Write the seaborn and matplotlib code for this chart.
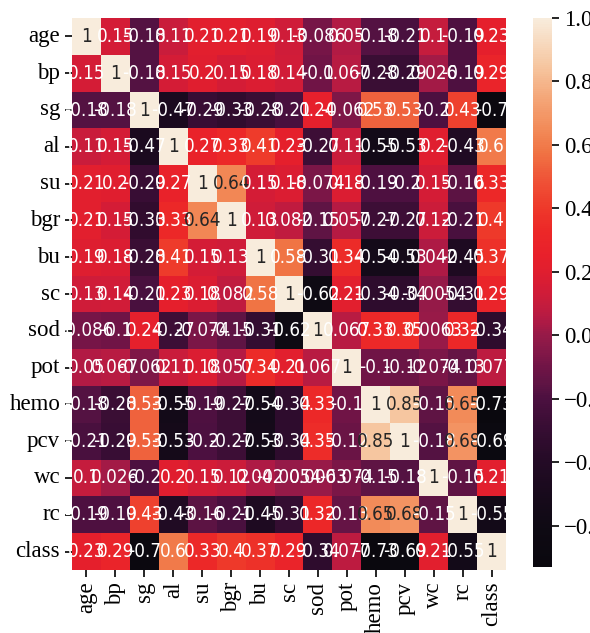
import numpy as np
import pandas as pd
import matplotlib
matplotlib.use("Agg")
import matplotlib.pyplot as plt
import seaborn as sns
from matplotlib import font_manager
from matplotlib.colors import LinearSegmentedColormap

labels = ["age", "bp", "sg", "al", "su", "bgr", "bu", "sc", "sod", "pot",
          "hemo", "pcv", "wc", "rc", "class"]

r_age   = [1, 0.15, -0.18, 0.11, 0.21, 0.21, 0.19, 0.13, -0.086, 0.05, -0.18, -0.21, 0.1, -0.19, 0.23]
r_bp    = [0.15, 1, -0.18, 0.15, 0.2, 0.15, 0.18, 0.14, -0.1, 0.067, -0.28, -0.29, 0.026, -0.19, 0.29]
r_sg    = [-0.18, -0.18, 1, -0.47, -0.29, -0.33, -0.28, -0.21, 0.24, -0.062, 0.53, 0.53, -0.2, 0.43, -0.7]
r_al    = [0.11, 0.15, -0.47, 1, 0.27, 0.33, 0.41, 0.23, -0.27, 0.11, -0.55, -0.53, 0.2, -0.43, 0.6]
r_su    = [0.21, 0.2, -0.29, 0.27, 1, 0.64, 0.15, 0.18, -0.074, 0.18, -0.19, -0.2, 0.15, -0.16, 0.33]
r_bgr   = [0.21, 0.15, -0.33, 0.33, 0.64, 1, 0.13, 0.082, -0.15, 0.057, -0.27, -0.27, 0.12, -0.21, 0.4]
r_bu    = [0.19, 0.18, -0.28, 0.41, 0.15, 0.13, 1, 0.58, -0.31, 0.34, -0.54, -0.53, 0.042, -0.45, 0.37]
r_sc    = [0.13, 0.14, -0.21, 0.23, 0.18, 0.082, 0.58, 1, -0.62, 0.21, -0.34, -0.34, -0.0054, -0.31, 0.29]
r_sod   = [-0.086, -0.1, 0.24, -0.27, -0.074, -0.15, -0.31, -0.62, 1, 0.067, 0.33, 0.35, 0.0063, 0.32, -0.34]
r_pot   = [0.05, 0.067, -0.062, 0.11, 0.18, 0.057, 0.34, 0.21, 0.067, 1, -0.1, -0.12, -0.074, -0.13, 0.077]
r_hemo  = [-0.18, -0.28, 0.53, -0.55, -0.19, -0.27, -0.54, -0.34, 0.33, -0.1, 1, 0.85, -0.15, 0.65, -0.73]
r_pcv   = [-0.21, -0.29, 0.53, -0.53, -0.2, -0.27, -0.53, -0.34, 0.35, -0.12, 0.85, 1, -0.18, 0.68, -0.69]
r_wc    = [0.1, 0.026, -0.2, 0.2, 0.15, 0.12, 0.042, -0.0054, 0.0063, -0.074, -0.15, -0.18, 1, -0.15, 0.21]
r_rc    = [-0.19, -0.19, 0.43, -0.43, -0.16, -0.21, -0.45, -0.31, 0.32, -0.13, 0.65, 0.68, -0.15, 1, -0.55]
r_class = [0.23, 0.29, -0.7, 0.6, 0.33, 0.4, 0.37, 0.29, -0.34, 0.077, -0.73, -0.69, 0.21, -0.55, 1]

rows = [r_age, r_bp, r_sg, r_al, r_su, r_bgr, r_bu, r_sc, r_sod, r_pot,
        r_hemo, r_pcv, r_wc, r_rc, r_class]
corr = pd.DataFrame(rows, index=labels, columns=labels)

vmin, vmax = -0.73, 1.0
# colour ramp as it appears in the published figure (rocket-like, more saturated)
ramp_vals = [-0.73, -0.6, -0.5, -0.4, -0.3, -0.2, -0.15, -0.1, -0.05, 0.0, 0.05, 0.1,
             0.15, 0.2, 0.25, 0.33, 0.4, 0.5, 0.58, 0.65, 0.75, 0.85, 1.0]
ramp_cols = ["#0a080e", "#0f0a14", "#180a1c", "#240b26", "#360d32", "#4c1040", "#601444",
             "#701446", "#841848", "#961a48", "#b21a44", "#c61c3d", "#d41c36", "#e01e2f",
             "#e8202b", "#ec2828", "#ee382a", "#ef5638", "#f07444", "#f28a58", "#f4a678",
             "#f6c6a0", "#f8ecdc"]
cmap = LinearSegmentedColormap.from_list(
    "pub_rocket", [((v - vmin) / (vmax - vmin), c) for v, c in zip(ramp_vals, ramp_cols)])

has_condensed = any(("DejaVu Sans" in f.name and "ondensed" in str(f.stretch)) or
                    "Condensed" in f.name for f in font_manager.fontManager.ttflist)
annot_kws = {"size": 12.5, "family": ["DejaVu Sans"]}
if has_condensed:
    annot_kws["fontstretch"] = "condensed"
    annot_kws["size"] = 13.5

W, H = 590, 633
fig = plt.figure(figsize=(W / 100, H / 100), dpi=100)
ax = fig.add_axes([72 / W, 1 - 570 / H, 434 / W, 552 / H])
cax = fig.add_axes([533 / W, 1 - 567 / H, 19 / W, 549 / H])

sns.heatmap(corr, annot=True, ax=ax, cbar_ax=cax, cmap=cmap, vmin=vmin, vmax=vmax,
            annot_kws=annot_kws)

# text colour: dark on the light cells, white elsewhere
flat = corr.values.ravel()
for t, v in zip(ax.texts, flat):
    t.set_color("#262626" if v > 0.62 else "white")

serif = ["Liberation Serif", "DejaVu Serif"]
ax.set_xticklabels(labels, rotation=90, family=serif, fontsize=16.5)
ax.set_yticklabels(labels, rotation=0, family=serif, fontsize=16.5)
ax.tick_params(axis="both", length=5, width=1.2, color="black")
cax.tick_params(length=5, width=1.2, color="black")
cax.set_yticks([1.0, 0.8, 0.6, 0.4, 0.2, 0.0, -0.2, -0.4, -0.6])
for t in cax.get_yticklabels():
    t.set_family(serif)
    t.set_fontsize(16.5)

fig.savefig("out.png", dpi=100)
